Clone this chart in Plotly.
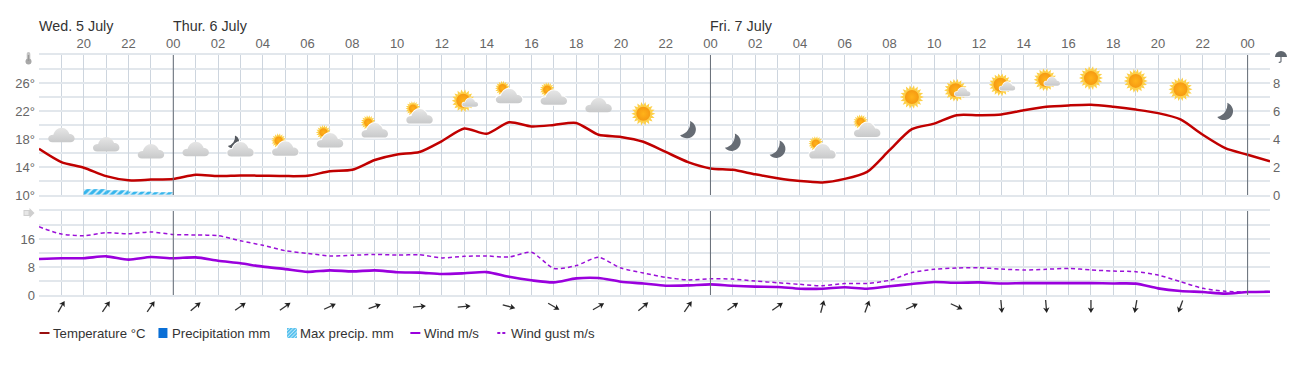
import base64, math
import plotly.graph_objects as go

# ---------- data ----------
hours = list(range(18, 74))
temperature = [16.6,14.7,13.9,12.7,12.1,12.2,12.3,12.9,12.7,12.8,12.75,12.7,12.75,13.4,13.6,15.0,15.8,16.15,
               17.7,19.5,18.75,20.4,19.8,20.0,20.3,18.6,18.3,17.6,16.15,14.7,13.8,13.6,12.95,12.4,12.0,11.8,
               12.3,13.3,16.4,19.4,20.2,21.4,21.4,21.5,22.1,22.6,22.8,22.9,22.6,22.2,21.7,20.8,18.6,16.7,15.75,14.8]
wind = [10.3,10.5,10.5,11.05,10.1,10.85,10.5,10.75,9.8,9.05,8.1,7.4,6.6,7.05,6.75,7.05,6.5,6.4,
        6.0,6.2,6.55,5.2,4.2,3.6,4.75,4.85,3.8,3.3,2.65,2.75,3.05,2.65,2.4,2.3,1.8,1.8,
        2.2,1.8,2.5,3.15,3.7,3.5,3.6,3.3,3.4,3.4,3.4,3.4,3.3,3.25,1.9,1.15,0.85,0.4,0.85,0.95]
gust = [19.5,17.4,16.95,17.8,17.5,18.0,17.3,17.15,16.95,15.5,14.2,12.65,11.9,11.15,11.35,11.6,11.4,11.5,
        10.6,11.05,11.15,10.85,12.2,7.6,8.4,10.75,7.7,6.3,5.05,4.3,4.65,4.55,4.0,3.5,3.05,2.65,
        3.3,3.3,4.2,6.4,7.35,7.7,7.8,7.4,7.15,7.35,7.6,7.15,6.85,6.65,5.7,3.8,1.9,1.05,0.85,1.05]
precip_hours = [20.5,21.5,22.5,23.5]
precipitation = [0,0,0,0]
max_precip = [0.42,0.34,0.24,0.2]

hour_tick_vals = list(range(20, 73, 2))
hour_tick_text = ["%02d" % (h % 24) for h in hour_tick_vals]
midnights = [24, 48, 72]
day_hours = [18, 24, 48]
day_labels = ["Wed. 5 July", "Thur. 6 July", "Fri. 7 July"]

icon_hours = list(range(19, 72, 2))
icon_names = ["cloud","cloud","cloud","cloud","mooncloud","suncloud","suncloud","suncloud","suncloud","sunsmall",
              "suncloud","suncloud","cloud","sun","moon","moon","moon","suncloud","suncloud","sun",
              "sunsmall","sunsmall","sunsmall","sun","sun","sun","moon"]
icon_levels = [18.6,17.3,16.3,16.6,17.0,17.1,18.3,19.7,21.7,23.6,
               24.6,24.4,22.9,21.6,19.4,17.6,16.6,16.7,19.8,24.0,
               25.1,25.9,26.6,26.7,26.3,25.1,22.0]
arrow_hours = list(range(19, 70, 2))
arrow_dirs = [30,35,35,50,55,55,65,70,85,85,105,120,60,50,35,55,55,15,20,65,115,175,175,180,190,200]

# ---------- layout geometry ----------
W, H = 1316, 367
L, R, T, B = 38.5, 46, 55, 72
PW, PH = W - L - R, H - T - B
def px(x): return (x - L) / PW
def py(y): return (H - B - y) / PH

# ---------- icon art ----------
def uri(body, box=28):
    s = f'<svg xmlns="http://www.w3.org/2000/svg" width="{box}" height="{box}" viewBox="0 0 {box} {box}">{body}</svg>'
    return "data:image/svg+xml;base64," + base64.b64encode(s.encode()).decode()

DEFS = ('<defs><linearGradient id="c" x1="0" y1="0" x2="0" y2="1"><stop offset="0" stop-color="#e6e6e6"/>'
        '<stop offset="1" stop-color="#c8c9ca"/></linearGradient>'
        '<radialGradient id="s"><stop offset="0" stop-color="#ffb319"/><stop offset="1" stop-color="#f69a12"/></radialGradient></defs>')
CLOUD = "M5 21.5C2.5 21.5 .8 20 .8 17.8C.8 15.5 3 14 6 14C7 10 10.5 7 14 7C18 7 21 10 22 13.2C25 13.2 27.3 15.2 27.3 17.8C27.3 20 25.5 21.5 23 21.5Z"

def sun(cx, cy, r_out, r_core):
    n = 18
    pts = []
    for i in range(2 * n):
        r = r_out if i % 2 == 0 else r_core + (r_out - r_core) * 0.3
        a = math.pi * i / n
        pts.append(f"{cx + r * math.cos(a):.2f},{cy + r * math.sin(a):.2f}")
    return (f'<polygon points="{" ".join(pts)}" fill="#fdd04a"/>'
            f'<circle cx="{cx}" cy="{cy}" r="{r_core}" fill="url(#s)"/>')

def cloud(tr="", halo=True):
    h = f'<path d="{CLOUD}" fill="#fff" stroke="#fff" stroke-width="2" transform="{tr}"/>' if halo else ""
    return h + f'<path d="{CLOUD}" fill="url(#c)" transform="{tr}"/>'

MOON = "M16 5.7A9 9 0 1 1 6 20A12.6 12.6 0 0 0 16 5.7Z"
ICONS = {
    "cloud": uri(DEFS + cloud(halo=False)),
    "sun": uri(DEFS + sun(14, 14, 12, 7)),
    "moon": uri(f'<path d="{MOON}" fill="#666c74"/>'),
    "suncloud": uri(DEFS + sun(7.5, 9.5, 7.6, 4.2) + cloud("translate(0 3)")),
    "mooncloud": uri(DEFS + f'<path d="{MOON}" fill="#54585e" transform="translate(-3 -.5) scale(.72)"/>' + cloud("translate(0 3)")),
    "sunsmall": uri(DEFS + sun(13, 15, 11.5, 7) + cloud("translate(11.5 8) scale(.6)")),
}
def arrow_uri(deg):
    return uri(f'<g transform="rotate({deg} 8 8)"><path d="M8 14.5V4" stroke="#333" stroke-width="1.3"/>'
               '<path d="M8 1.5L4.8 7L8 5.6L11.2 7Z" fill="#222"/></g>', 16)

THERMO = uri('<rect x="6.2" y="2" width="3.6" height="9" rx="1.8" fill="#c4c4c4"/>'
             '<circle cx="8" cy="11.5" r="3" fill="#a8a8a8"/><rect x="7.3" y="5" width="1.4" height="6" fill="#999"/>', 16)
UMBRELLA = uri('<path d="M2 8A6 6 0 0 1 14 8Z" fill="#5f666e"/><path d="M8 8V12.5A1.4 1.4 0 0 1 5.8 13" fill="none" stroke="#5f666e" stroke-width="1.1"/>', 16)
WINDFLAG = uri('<path d="M3 5H9V3L14 8L9 13V11H3Z" fill="#cfcfcf"/><path d="M4 7H8M4 9H8" stroke="#fff"/>', 16)
HATCH = uri('<defs><pattern id="h" width="4" height="4" patternUnits="userSpaceOnUse" patternTransform="rotate(45)">'
            '<rect width="2.6" height="4" fill="#55c0ee"/></pattern></defs><rect width="16" height="16" fill="#bfe8f8"/><rect width="16" height="16" fill="url(#h)"/>', 16)

# ---------- traces ----------
fig = go.Figure()
SPL = dict(shape="spline", smoothing=0.7)
fig.add_trace(go.Bar(x=precip_hours, y=max_precip, yaxis="y3", xaxis="x", width=1, name="Max precip. mm",
                     marker=dict(color="#d5f0fb", line=dict(width=0),
                                 pattern=dict(shape="/", fgcolor="#35b5ec", bgcolor="#d5f0fb", size=5, solidity=0.6, fgopacity=1))))
fig.add_trace(go.Bar(x=precip_hours, y=precipitation, yaxis="y3", xaxis="x", width=1, name="Precipitation mm",
                     marker=dict(color="#0a6fd6")))
fig.add_trace(go.Scatter(x=hours, y=temperature, mode="lines", name="Temperature °C", xaxis="x", yaxis="y",
                         line=dict(color="#c00000", width=2.5, **SPL)))
fig.add_trace(go.Scatter(x=hours, y=gust, mode="lines", name="Wind gust m/s", xaxis="x2", yaxis="y2",
                         line=dict(color="#9a10d8", width=1.5, dash="4px,3px", **SPL)))
fig.add_trace(go.Scatter(x=hours, y=wind, mode="lines", name="Wind m/s", xaxis="x2", yaxis="y2",
                         line=dict(color="#9a00dd", width=2.6, **SPL)))

# ---------- images ----------
images = []
for h, n, lv in zip(icon_hours, icon_names, icon_levels):
    images.append(dict(source=ICONS[n], xref="x", yref="y", x=h, y=lv, sizex=28/22.4, sizey=4,
                       xanchor="center", yanchor="middle", sizing="contain", layer="above"))
for h, d in zip(arrow_hours, arrow_dirs):
    images.append(dict(source=arrow_uri(d), xref="x", yref="paper", x=h, y=py(306.5), sizex=16/22.4, sizey=16/PH,
                       xanchor="center", yanchor="middle", sizing="contain", layer="above"))
for src, cx, cy in [(THERMO, 28, 58), (UMBRELLA, 1281, 57), (WINDFLAG, 28, 213)]:
    images.append(dict(source=src, xref="paper", yref="paper", x=px(cx), y=py(cy), sizex=16/PW, sizey=16/PH,
                       xanchor="center", yanchor="middle", sizing="contain", layer="above"))
images.append(dict(source=HATCH, xref="paper", yref="paper", x=px(291.5), y=py(333), sizex=10/PW, sizey=10/PH,
                   xanchor="center", yanchor="middle", sizing="contain", layer="above"))

# ---------- shapes + annotations ----------
shapes = []
for m in midnights:
    for xr, yr in [("x", "y domain"), ("x2", "y2 domain")]:
        shapes.append(dict(type="line", xref=xr, yref=yr, x0=m, x1=m, y0=0, y1=1, layer="above",
                           line=dict(color="#666d76", width=1)))
annotations = []
for h, t in zip(day_hours, day_labels):
    annotations.append(dict(text=t, xref="x", yref="paper", x=h, y=py(26), xanchor="left", yanchor="middle",
                            showarrow=False, xshift=-2, font=dict(size=14.3, color="#333333")))

LEG = [("Temperature °C", 53, "line", "#990f0f"), ("Precipitation mm", 172, "sq", "#0a6fd6"),
       ("Max precip. mm", 300, None, None), ("Wind m/s", 424, "line", "#9a00dd"),
       ("Wind gust m/s", 511, "dash", "#9a10d8")]
for t, x, kind, col in LEG:
    annotations.append(dict(text=t, xref="paper", yref="paper", x=px(x), y=py(333.5), xanchor="left", yanchor="middle",
                            showarrow=False, xshift=-2, font=dict(size=13.2, color="#333333")))
    if kind in ("line", "dash"):
        shapes.append(dict(type="line", xref="paper", yref="paper", x0=px(x-14), x1=px(x-4), y0=py(333), y1=py(333),
                           line=dict(color=col, width=2, dash="solid" if kind == "line" else "3px,2px")))
    elif kind == "sq":
        shapes.append(dict(type="rect", xref="paper", yref="paper", x0=px(x-14), x1=px(x-5), y0=py(338), y1=py(328),
                           line=dict(width=0), fillcolor=col))

# ---------- axes ----------
HG, VG = "#e2e7ec", "#cdd5de"
TICK = dict(size=13, color="#666666")
odd = [h for h in range(19, 73, 2)] + [18, 73]
def xax(**kw):
    return dict(range=[18, 73], tickmode="array", tickvals=hour_tick_vals, gridcolor=VG, gridwidth=1, showgrid=True,
                zeroline=False, showline=True, linecolor=HG, linewidth=2, mirror=True, ticks="", tickfont=TICK,
                minor=dict(tickmode="array", tickvals=odd, showgrid=True, gridcolor=VG, gridwidth=1, ticks=""), **kw)
def yax(rng, major, minor, **kw):
    return dict(range=rng, tickmode="array", tickvals=major, gridcolor=HG, gridwidth=2, zeroline=False, ticks="",
                tickfont=TICK, ticklabelstandoff=3,
                minor=dict(tickmode="array", tickvals=minor, showgrid=True, gridcolor=HG, gridwidth=2, ticks=""), **kw)

fig.update_layout(
    width=W, height=H, autosize=False,
    margin=dict(l=L, r=R, t=T, b=B, pad=0),
    paper_bgcolor="#ffffff", plot_bgcolor="#ffffff",
    font=dict(family="Liberation Sans, Arial, sans-serif", size=13, color="#333333"),
    showlegend=False, barmode="overlay", hovermode=False,
    xaxis=xax(domain=[0, 1], side="top", anchor="y", ticktext=hour_tick_text),
    xaxis2=xax(domain=[0, 1], anchor="y2", showticklabels=False),
    yaxis=yax([10, 30], [10, 14, 18, 22, 26], [12, 16, 20, 24, 28, 30],
              domain=[(H-B-195)/PH, 1], anchor="x", ticktext=["10°", "14°", "18°", "22°", "26°"]),
    yaxis2=yax([0, 24], [0, 8, 16], [4, 12, 20, 24], domain=[0, (H-B-211)/PH], anchor="x2"),
    yaxis3=dict(range=[0, 10], overlaying="y", side="right", anchor="x", tickmode="array", tickvals=[0, 2, 4, 6, 8],
                showgrid=False, zeroline=False, tickfont=TICK, ticks="", ticklabelstandoff=2),
    images=images, shapes=shapes, annotations=annotations,
)

fig.write_html("out.html", config=dict(displayModeBar=False),
               post_script="document.body.style.margin='0';document.documentElement.style.overflow='hidden';")
